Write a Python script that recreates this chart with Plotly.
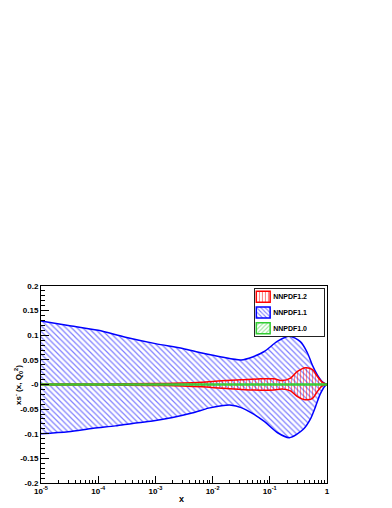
import plotly.graph_objects as go

# Bandas de incertidumbre de xs^-(x, Q0^2)
x_azul_sup = [1e-5, 3e-5, 1e-4, 3e-4, 1e-3, 3e-3, 0.0065, 0.0143, 0.0316, 0.05, 0.08, 0.137, 0.22,
              0.342, 0.452, 0.551, 0.673, 0.82, 1.0]
azul_sup = [0.129, 0.120, 0.110, 0.096, 0.083, 0.073, 0.064, 0.056, 0.050, 0.056, 0.067, 0.088, 0.098,
            0.087, 0.065, 0.040, 0.020, 0.006, 0.0]

x_azul_inf = [1e-5, 3e-5, 8.2e-5, 2e-4, 4e-4, 8.9e-4, 2e-3, 4.35e-3, 8.5e-3, 0.0143, 0.0213, 0.0316, 0.047,
              0.08, 0.137, 0.22, 0.386, 0.509, 0.621, 0.757, 0.924, 1.0]
azul_inf = [-0.100, -0.096, -0.089, -0.084, -0.079, -0.074, -0.067, -0.058, -0.048, -0.043, -0.042, -0.047, -0.057,
            -0.075, -0.098, -0.108, -0.091, -0.071, -0.047, -0.020, -0.003, 0.0]

x_rojo = [1e-5, 1e-4, 1e-3, 0.003, 0.0065, 0.0143, 0.0316, 0.07, 0.118, 0.165, 0.23, 0.30, 0.42,
          0.56, 0.68, 0.82, 1.0]
rojo_sup = [0.001, 0.0012, 0.0018, 0.003, 0.0047, 0.0075, 0.0095, 0.0115, 0.0115, 0.008, 0.013, 0.026, 0.034,
            0.030, 0.016, 0.005, 0.0]
rojo_inf = [-0.001, -0.0012, -0.0018, -0.003, -0.0047, -0.0075, -0.010, -0.0115, -0.011, -0.009, -0.013, -0.024, -0.031,
            -0.028, -0.014, -0.003, 0.0]

x_verde = [1e-5, 1.0]
verde_sup = [0.0008, 0.0008]
verde_inf = [-0.0008, -0.0008]

# Leyenda (de abajo hacia arriba)
leyenda_nombres = ['NNPDF1.0', 'NNPDF1.1', 'NNPDF1.2']

x_ticks = [1e-5, 1e-4, 1e-3, 1e-2, 1e-1, 1]
x_ticktext = ['10<sup>-5</sup>', '10<sup>-4</sup>', '10<sup>-3</sup>', '10<sup>-2</sup>', '10<sup>-1</sup>', '1']
y_ticks = [-0.2, -0.15, -0.1, -0.05, 0, 0.05, 0.1, 0.15, 0.2]
y_ticktext = ['-0.2', '-0.15', '-0.1', '-0.05', '-0', '0.05', '0.1', '0.15', '0.2']

FUENTE = 'Liberation Sans'
AZUL = '#0000ff'
ROJO = '#ff0000'
VERDE = '#33cc33'

fig = go.Figure()


def agregar_banda(x_sup, sup, x_inf, inf, color, forma, tam):
    linea = dict(color=color, width=1.5, shape='spline', smoothing=0.8)
    fig.add_trace(go.Scatter(
        x=x_inf, y=inf, mode='lines', line=linea, showlegend=False, hoverinfo='skip'
    ))
    fig.add_trace(go.Scatter(
        x=x_sup, y=sup, mode='lines', line=linea, showlegend=False, hoverinfo='skip',
        fill='tonexty', fillcolor='rgba(0,0,0,0)',
        fillpattern=dict(shape=forma, fgcolor=color, bgcolor='rgba(0,0,0,0)', size=tam, solidity=0.3)
    ))


agregar_banda(x_azul_sup, azul_sup, x_azul_inf, azul_inf, AZUL, '\\', 4)
agregar_banda(x_rojo, rojo_sup, x_rojo, rojo_inf, ROJO, '|', 3)
agregar_banda(x_verde, verde_sup, x_verde, verde_inf, VERDE, '/', 4)

# Leyenda dibujada como barras horizontales en un eje propio
fig.add_trace(go.Bar(
    y=leyenda_nombres, x=[0.2] * len(leyenda_nombres), base=0.02,
    orientation='h', width=0.7, xaxis='x2', yaxis='y2',
    marker=dict(
        color='white',
        line=dict(color=[VERDE, AZUL, ROJO], width=1.5),
        pattern=dict(shape=['/', '\\', '|'], fgcolor=[VERDE, AZUL, ROJO], bgcolor='white',
                     size=3, solidity=0.35)
    ),
    text=leyenda_nombres, textposition='outside', constraintext='none', cliponaxis=False,
    textfont=dict(family=FUENTE, size=7, color='black', weight='bold'),
    showlegend=False, hoverinfo='skip'
))

fig.update_layout(
    width=384, height=500,
    margin=dict(l=29, r=65, t=278, b=25),
    paper_bgcolor='white', plot_bgcolor='white',
    font=dict(family=FUENTE, size=8, color='black', weight='bold'),
    showlegend=False,
    xaxis=dict(
        type='log', range=[-5, 0],
        tickvals=x_ticks, ticktext=x_ticktext,
        ticks='inside', ticklen=7, tickcolor='black',
        minor=dict(ticks='inside', ticklen=3, tickcolor='black', dtick='D1', showgrid=False),
        showline=True, linecolor='black', linewidth=1, mirror=True,
        showgrid=False, zeroline=False,
        tickfont=dict(family=FUENTE, size=8, weight='bold')
    ),
    yaxis=dict(
        range=[-0.2, 0.2],
        tickvals=y_ticks, ticktext=y_ticktext,
        ticks='inside', ticklen=8, tickcolor='black',
        minor=dict(ticks='inside', ticklen=4, tickcolor='black', dtick=0.01, showgrid=False),
        showline=True, linecolor='black', linewidth=1, mirror=True,
        showgrid=False, zeroline=False,
        tickfont=dict(family=FUENTE, size=8, weight='bold')
    ),
    xaxis2=dict(domain=[0.748, 0.990], anchor='y2', range=[0, 1],
                showline=True, mirror=True, linecolor='#222222', linewidth=1,
                showticklabels=False, ticks='', showgrid=False, zeroline=False, fixedrange=True),
    yaxis2=dict(domain=[0.746, 0.985], anchor='x2', range=[-0.5, 2.5],
                categoryorder='array', categoryarray=leyenda_nombres,
                showline=True, mirror=True, linecolor='#222222', linewidth=1,
                showticklabels=False, ticks='', showgrid=False, zeroline=False, fixedrange=True),
    annotations=[
        dict(text='xs<sup>-</sup> (x, Q<sub>0</sub><sup>2</sup>)', xref='paper', yref='paper',
             x=-0.079, y=0.5, xanchor='center', yanchor='middle', textangle=-90, showarrow=False,
             font=dict(family=FUENTE, size=8, weight='bold')),
        dict(text='x', xref='paper', yref='paper', x=0.493, y=-0.081,
             xanchor='center', yanchor='middle', showarrow=False,
             font=dict(family=FUENTE, size=9, weight='bold'))
    ]
)

fig.write_html("out.html")
